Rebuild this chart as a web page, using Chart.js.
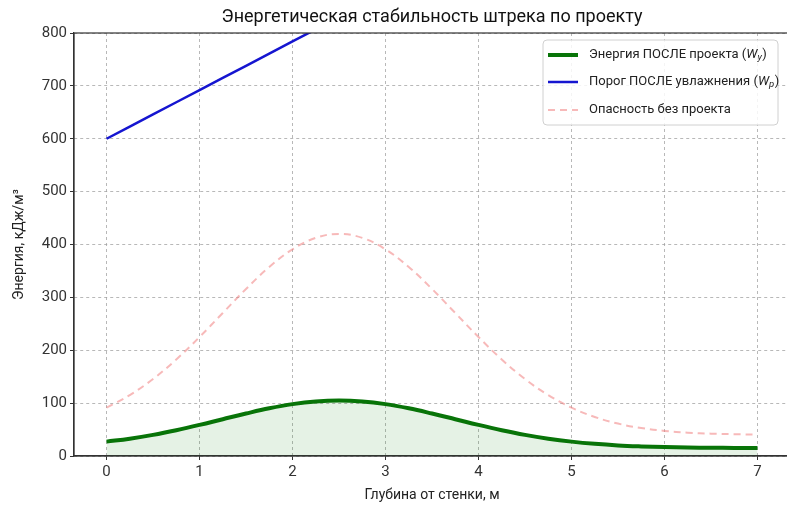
<!DOCTYPE html>
<html><head><meta charset="utf-8">
<script src="https://cdn.jsdelivr.net/npm/chart.js@4/dist/chart.umd.min.js"></script>
<style>html,body{margin:0;padding:0;overflow:hidden;background:#fff}#wrap{width:800px;height:510px;position:relative}</style>
</head><body><div id="wrap"><canvas id="c"></canvas></div>
<script>
const depths = [0,0.25,0.5,0.75,1,1.25,1.5,1.75,2,2.25,2.5,2.75,3,3.25,3.5,3.75,4,4.25,4.5,4.75,5,5.25,5.5,5.75,6,6.25,6.5,6.75,7];
const energyAfter = [27.2,32.8,40.0,48.8,58.8,69.6,80.3,90.2,98.1,103.2,105,103.2,98.1,90.2,80.3,69.6,58.8,48.8,40.0,32.8,27.2,23.0,20.0,18.1,16.8,16.0,15.5,15.3,15.1];
const thresholdAfter = [600,623,646,669,692,715,738,761,784,807,830,853,876,899,922,945,968,991,1014,1037,1060,1083,1106,1129,1152,1175,1198,1221,1244];
const dangerNoProject = [91.4,115.2,145.6,182.6,225.0,270.5,315.9,357.4,390.8,412.5,420,412.5,390.8,357.4,315.9,270.5,225.0,182.6,145.6,115.2,91.4,73.8,61.3,52.9,47.5,44.2,42.3,41.2,40.6];
const xTicks = [0,1,2,3,4,5,6,7];
const yTicks = [0,100,200,300,400,500,600,700,800];
const titleText = 'Энергетическая стабильность штрека по проекту';
const xTitle = 'Глубина от стенки, м';
const yTitle = 'Энергия, кДж/м³';
const legendItems = [
  {pre:'Энергия ПОСЛЕ проекта (', sym:'W', sub:'y', post:')'},
  {pre:'Порог ПОСЛЕ увлажнения (', sym:'W', sub:'p', post:')'},
  {pre:'Опасность без проекта', sym:'', sub:'', post:''}
];

const FONT = "Roboto, 'DejaVu Sans', sans-serif";
const pts = arr => depths.map((x,i)=>({x, y: arr[i]}));

const frameLegend = {
  id:'frameLegend',
  afterDatasetsDraw(chart){
    const {ctx, chartArea:a} = chart;
    ctx.save();
    ctx.strokeStyle = '#333'; ctx.lineWidth = 1.2;
    ctx.strokeRect(a.left, a.top, a.right-a.left, a.bottom-a.top);
    // axes title, centred over the plot area
    ctx.fillStyle = '#111'; ctx.font = '18px ' + FONT;
    ctx.textAlign = 'center'; ctx.textBaseline = 'middle';
    ctx.fillText(titleText, (a.left + a.right)/2, a.top - 16);
    const bw = 235, bh = 85, bx = a.right-12-bw, by = a.top+7;
    ctx.beginPath();
    if (ctx.roundRect) ctx.roundRect(bx,by,bw,bh,4); else ctx.rect(bx,by,bw,bh);
    ctx.fillStyle = 'rgba(255,255,255,0.85)'; ctx.fill();
    ctx.strokeStyle = '#d0d0d0'; ctx.lineWidth = 1; ctx.stroke();
    const styles = chart.data.datasets;
    const rows = [by+15, by+42, by+70];
    legendItems.forEach((it,i)=>{
      const ds = styles[i];
      const y = rows[i];
      ctx.beginPath();
      ctx.setLineDash(ds.borderDash || []);
      ctx.strokeStyle = ds.borderColor; ctx.lineWidth = ds.borderWidth;
      ctx.moveTo(bx+5, y); ctx.lineTo(bx+35, y); ctx.stroke();
      ctx.setLineDash([]);
      ctx.fillStyle = '#222'; ctx.textBaseline = 'middle'; ctx.textAlign = 'left';
      let x = bx+46;
      ctx.font = '13px ' + FONT;
      ctx.fillText(it.pre, x, y); x += ctx.measureText(it.pre).width;
      if (it.sym){
        ctx.font = 'italic 13px ' + FONT;
        ctx.fillText(it.sym, x, y); x += ctx.measureText(it.sym).width;
        ctx.font = 'italic 9.5px ' + FONT;
        ctx.fillText(it.sub, x, y+3); x += ctx.measureText(it.sub).width + 0.5;
        ctx.font = '13px ' + FONT;
        ctx.fillText(it.post, x, y);
      }
    });
    ctx.restore();
  }
};

new Chart(document.getElementById('c'), {
  type:'line',
  data:{datasets:[
    {label:'Энергия ПОСЛЕ проекта (Wy)', data:pts(energyAfter), borderColor:'#087408', borderWidth:4,
     backgroundColor:'rgba(0,128,0,0.1)', fill:'origin', pointRadius:0, tension:0.4, clip:0, order:1},
    {label:'Порог ПОСЛЕ увлажнения (Wp)', data:pts(thresholdAfter), borderColor:'#1515d0', borderWidth:2.5,
     fill:false, pointRadius:0, tension:0, clip:0, order:2},
    {label:'Опасность без проекта', data:pts(dangerNoProject), borderColor:'rgba(240,128,128,0.55)', borderWidth:2,
     borderDash:[7,5], fill:false, pointRadius:0, tension:0.4, clip:0, order:3}
  ]},
  options:{
    responsive:true, maintainAspectRatio:false, animation:false,
    layout:{padding:{left:0,right:10,top:33,bottom:0}},
    plugins:{
      legend:{display:false}, tooltip:{enabled:false},
      title:{display:false, text:titleText}
    },
    scales:{
      x:{type:'linear', min:-0.35, max:7.35,
         afterBuildTicks: s => { s.ticks = xTicks.map(v=>({value:v})); },
         afterFit: s => { s.height = 54; },
         ticks:{color:'#333', font:{family:FONT, size:15}, padding:3, maxRotation:0},
         grid:{color:'rgba(160,160,160,0.75)', tickLength:4, tickColor:'#333', drawOnChartArea:true},
         border:{display:true, color:'#333', width:1.2, dash:[3,3]},
         title:{display:true, text:xTitle, color:'#222', font:{family:FONT, size:14}, padding:{top:0,bottom:6.6}}
      },
      y:{type:'linear', min:0, max:800,
         afterBuildTicks: s => { s.ticks = yTicks.map(v=>({value:v})); },
         afterFit: s => { s.width = 74; },
         ticks:{color:'#333', font:{family:FONT, size:15}, padding:3},
         grid:{color:'rgba(160,160,160,0.75)', tickLength:4, tickColor:'#333'},
         border:{display:true, color:'#333', width:1.2, dash:[3,3]},
         title:{display:true, text:yTitle, color:'#222', font:{family:FONT, size:14}, padding:{top:11,bottom:0}}
      }
    }
  },
  plugins:[frameLegend]
});
</script>
</body></html>
